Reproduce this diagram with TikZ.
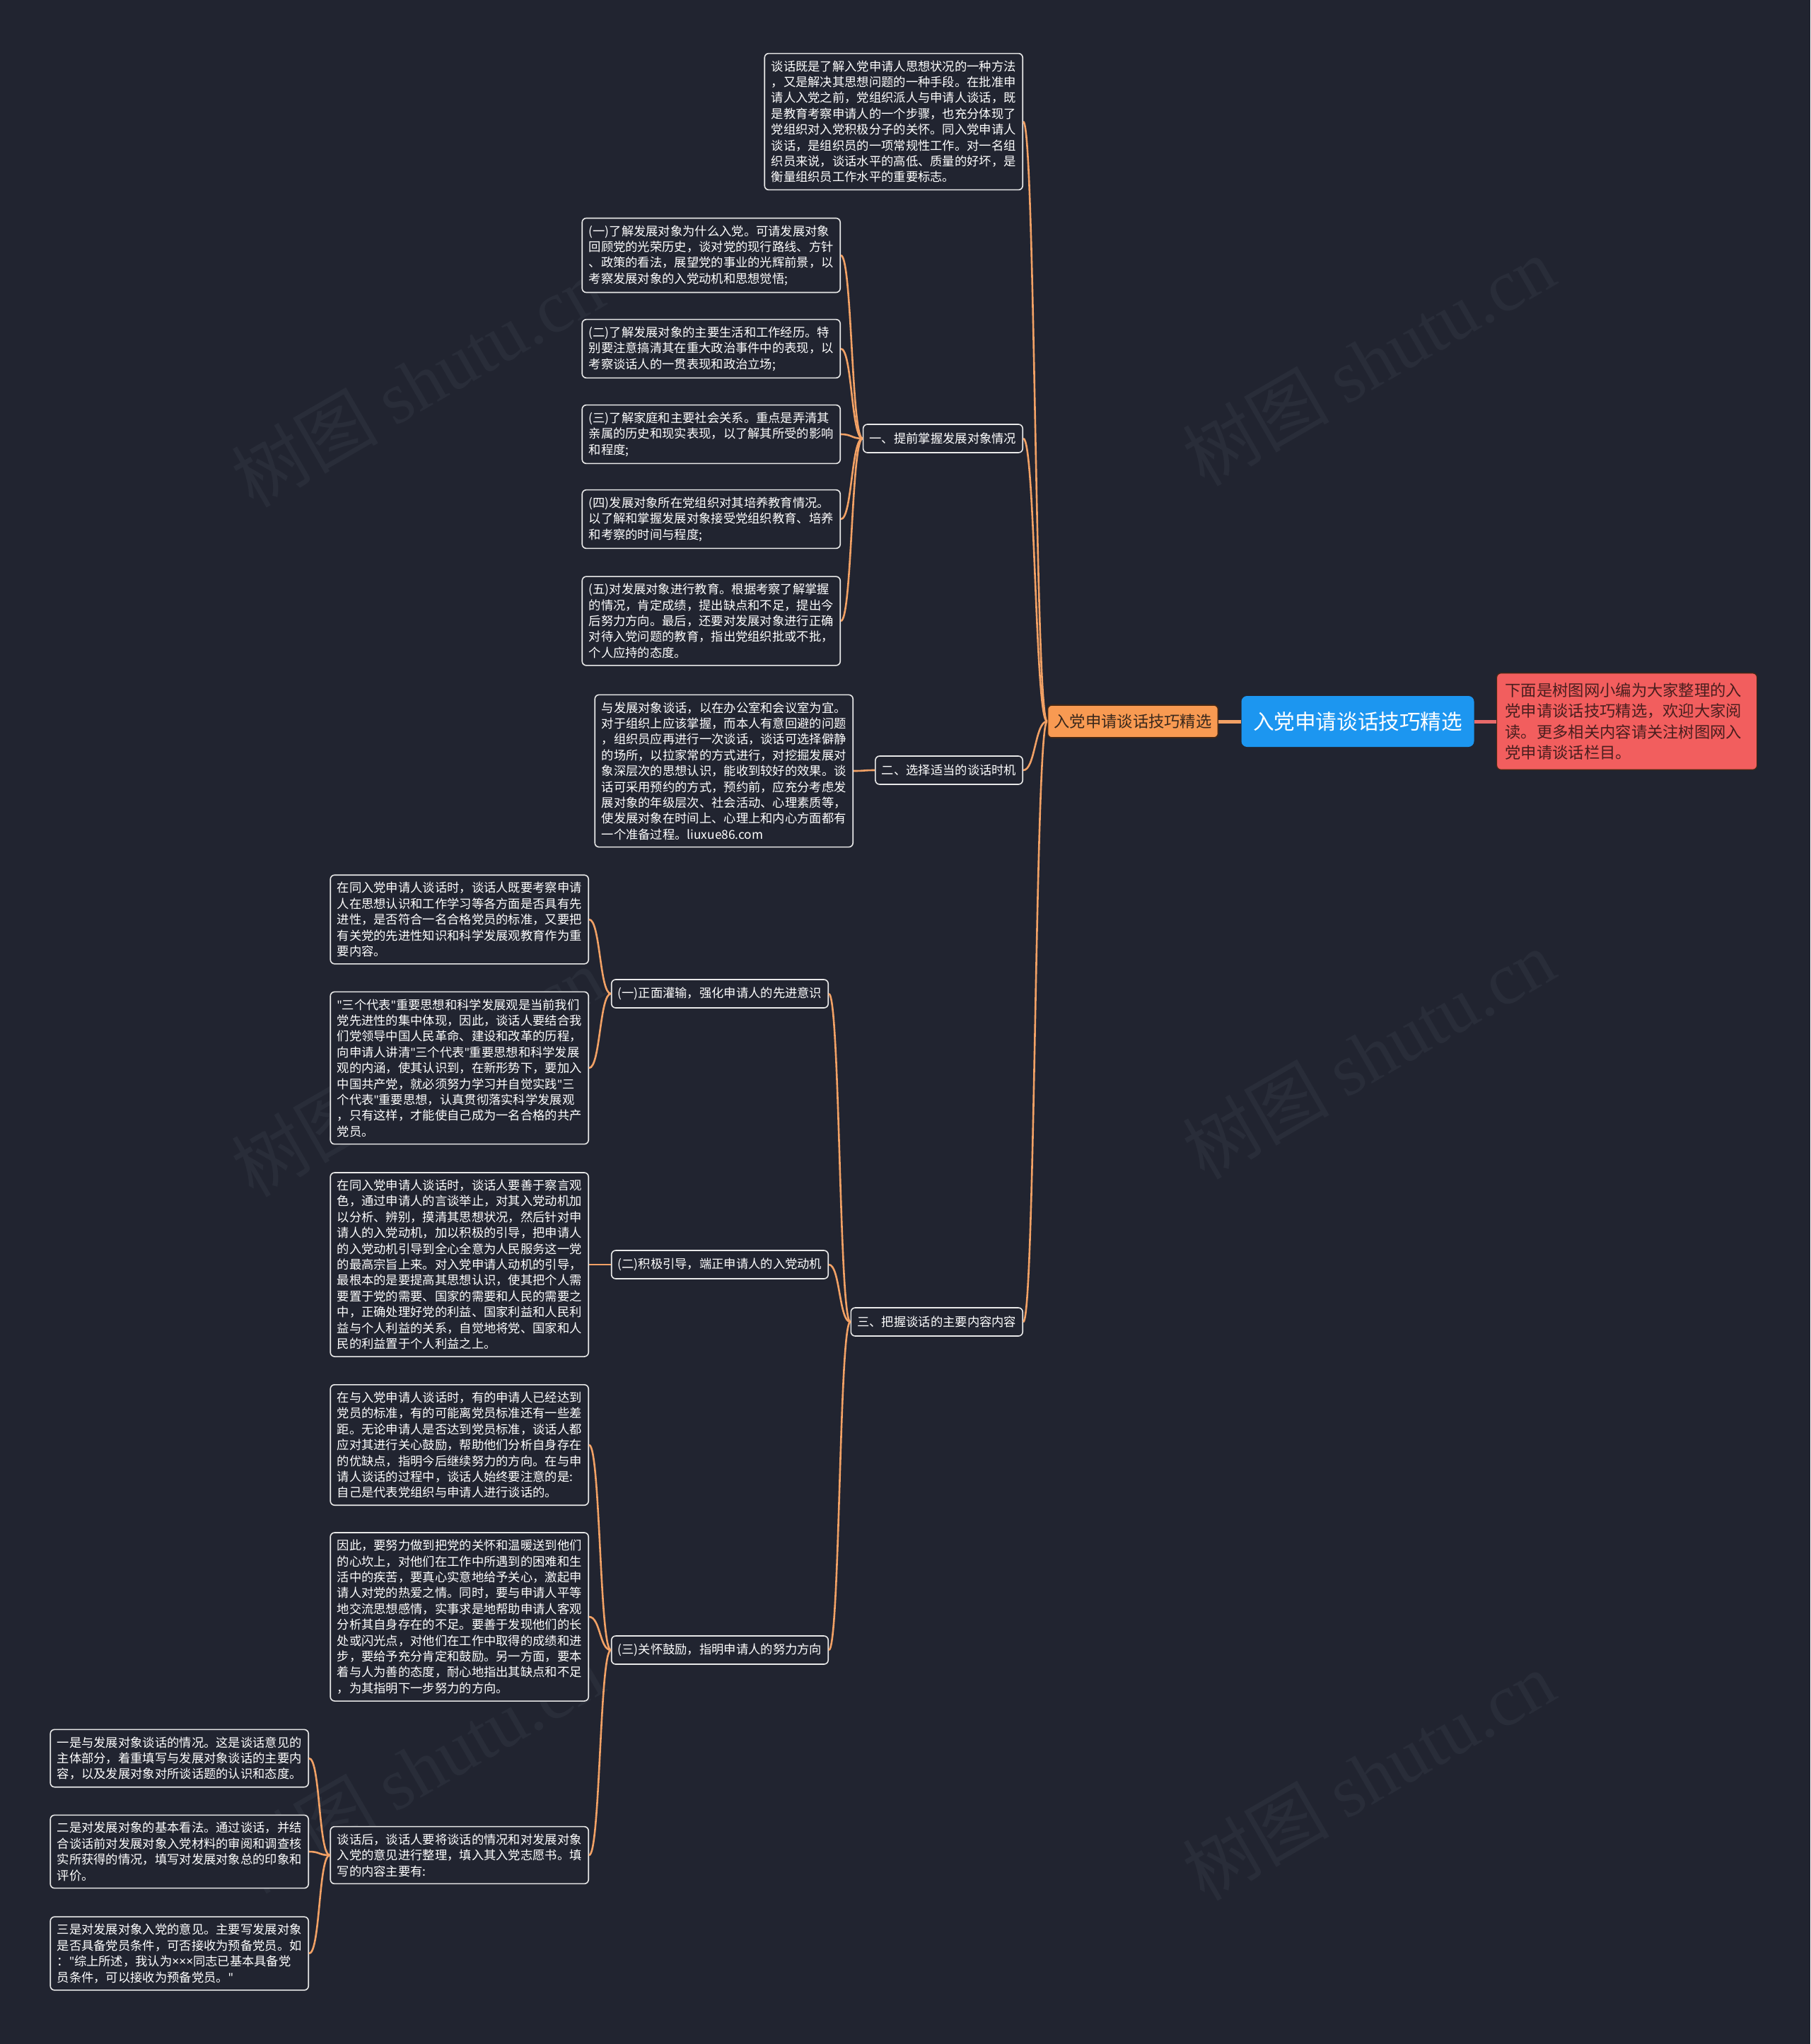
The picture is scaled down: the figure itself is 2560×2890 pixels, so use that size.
\documentclass[tikz,border=0pt]{standalone}
\usepackage{fontspec}
\setmainfont{Noto Sans CJK SC}
\newfontfamily\wmserif{Liberation Serif}
\newfontfamily\latf{Noto Sans}
\newcommand\myq{{\latf"}}
\newcommand\myx{{\latf ×}}
\definecolor{bg}{RGB}{33,36,48}
\definecolor{boxline}{RGB}{232,232,232}
\definecolor{connc}{RGB}{242,161,101}
\definecolor{orfill}{RGB}{248,154,82}
\definecolor{ortext}{RGB}{58,40,28}
\definecolor{orline}{RGB}{70,40,20}
\definecolor{bluefill}{RGB}{28,150,240}
\definecolor{redfill}{RGB}{242,94,94}
\definecolor{redtext}{RGB}{74,30,30}
\definecolor{redline}{RGB}{232,106,106}
\definecolor{wmc}{RGB}{41,45,57}
\tikzset{
  leaf/.style={draw=boxline, line width=0.8pt, fill=bg, rounded corners=3pt, text=white,
    align=left, text width=173pt, inner xsep=4.75pt, inner ysep=5pt,
    font=\fontsize{8.65pt}{11.2pt}\selectfont, anchor=east},
  midbox/.style={draw=boxline, line width=0.8pt, fill=bg, rounded corners=3pt, text=white,
    inner xsep=4.5pt, inner ysep=2pt, minimum height=20pt,
    font=\fontsize{8.65pt}{11.2pt}\selectfont, anchor=east},
  conn/.style={draw=connc, line width=1.3pt},
  wm/.style={text=wmc, font=\fontsize{52pt}{60pt}\selectfont, rotate=30},
}
\begin{document}
\begin{tikzpicture}[x=0.5pt, y=-0.5pt]
\fill[bg] (0,0) rectangle (2560,2890);
\useasboundingbox (0,0) rectangle (2560,2890);

% watermarks
\node[wm] (w1) at (590,540) {树图 {\wmserif shutu.cn}};
\node[wm] (w2) at (1935,510) {树图 {\wmserif shutu.cn}};
\node[wm] (w3) at (590,1515) {树图 {\wmserif shutu.cn}};
\node[wm] (w4) at (1935,1490) {树图 {\wmserif shutu.cn}};
\node[wm] (w5) at (590,2500) {树图 {\wmserif shutu.cn}};
\node[wm] (w6) at (1935,2510) {树图 {\wmserif shutu.cn}};

% central nodes
\node[draw=orline, line width=0.8pt, fill=orfill, text=ortext, rounded corners=3pt,
  inner xsep=4.5pt, minimum height=23pt, font=\fontsize{11.15pt}{13pt}\selectfont] (O) at (1602,1020) {入党申请谈话技巧精选};
\node[fill=bluefill, text=white, rounded corners=4pt, inner xsep=8.25pt, minimum height=36pt,
  font=\fontsize{14.8pt}{17pt}\selectfont] (R) at (1920,1020) {入党申请谈话技巧精选};
\node[draw=orline, line width=0.6pt, fill=redfill, text=redtext, rounded corners=3pt, align=left,
  text width=172pt, inner xsep=6pt, inner ysep=6.9pt, font=\fontsize{11.15pt}{14.7pt}\selectfont,
  anchor=west] (D) at (2116,1020) {下面是树图网小编为大家整理的入\\党申请谈话技巧精选，欢迎大家阅\\读。更多相关内容请关注树图网入\\党申请谈话栏目。};

% top box
\node[leaf] (T0) at (1447,172) {谈话既是了解入党申请人思想状况的一种方法\\，又是解决其思想问题的一种手段。在批准申\\请人入党之前，党组织派人与申请人谈话，既\\是教育考察申请人的一个步骤，也充分体现了\\党组织对入党积极分子的关怀。同入党申请人\\谈话，是组织员的一项常规性工作。对一名组\\织员来说，谈话水平的高低、质量的好坏，是\\衡量组织员工作水平的重要标志。};

% branch 1
\node[midbox] (M1) at (1447,620) {一、提前掌握发展对象情况};
\node[leaf] (L1) at (1189,361) {(一)了解发展对象为什么入党。可请发展对象\\回顾党的光荣历史，谈对党的现行路线、方针\\、政策的看法，展望党的事业的光辉前景，以\\考察发展对象的入党动机和思想觉悟;};
\node[leaf] (L2) at (1189,493) {(二)了解发展对象的主要生活和工作经历。特\\别要注意搞清其在重大政治事件中的表现，以\\考察谈话人的一贯表现和政治立场;};
\node[leaf] (L3) at (1189,614) {(三)了解家庭和主要社会关系。重点是弄清其\\亲属的历史和现实表现，以了解其所受的影响\\和程度;};
\node[leaf] (L4) at (1189,734) {(四)发展对象所在党组织对其培养教育情况。\\以了解和掌握发展对象接受党组织教育、培养\\和考察的时间与程度;};
\node[leaf] (L5) at (1189,878) {(五)对发展对象进行教育。根据考察了解掌握\\的情况，肯定成绩，提出缺点和不足，提出今\\后努力方向。最后，还要对发展对象进行正确\\对待入党问题的教育，指出党组织批或不批，\\个人应持的态度。};

% branch 2
\node[midbox] (M2) at (1447,1089) {二、选择适当的谈话时机};
\node[leaf] (BX) at (1207,1090) {与发展对象谈话，以在办公室和会议室为宜。\\对于组织上应该掌握，而本人有意回避的问题\\，组织员应再进行一次谈话，谈话可选择僻静\\的场所，以拉家常的方式进行，对挖掘发展对\\象深层次的思想认识，能收到较好的效果。谈\\话可采用预约的方式，预约前，应充分考虑发\\展对象的年级层次、社会活动、心理素质等，\\使发展对象在时间上、心理上和内心方面都有\\一个准备过程。liuxue86.com};

% branch 3
\node[midbox] (M3) at (1447,1869) {三、把握谈话的主要内容内容};
\node[midbox] (S1) at (1172,1405) {(一)正面灌输，强化申请人的先进意识};
\node[midbox] (S2) at (1172,1788) {(二)积极引导，端正申请人的入党动机};
\node[midbox] (S3) at (1172,2333) {(三)关怀鼓励，指明申请人的努力方向};

\node[leaf] (A1) at (833,1300) {在同入党申请人谈话时，谈话人既要考察申请\\人在思想认识和工作学习等各方面是否具有先\\进性，是否符合一名合格党员的标准，又要把\\有关党的先进性知识和科学发展观教育作为重\\要内容。};
\node[leaf] (A2) at (833,1510) {\myq 三个代表\myq 重要思想和科学发展观是当前我们\\党先进性的集中体现，因此，谈话人要结合我\\们党领导中国人民革命、建设和改革的历程，\\向申请人讲清\myq 三个代表\myq 重要思想和科学发展\\观的内涵，使其认识到，在新形势下，要加入\\中国共产党，就必须努力学习并自觉实践\myq 三\\个代表\myq 重要思想，认真贯彻落实科学发展观\\，只有这样，才能使自己成为一名合格的共产\\党员。};
\node[leaf] (B1) at (833,1788) {在同入党申请人谈话时，谈话人要善于察言观\\色，通过申请人的言谈举止，对其入党动机加\\以分析、辨别，摸清其思想状况，然后针对申\\请人的入党动机，加以积极的引导，把申请人\\的入党动机引导到全心全意为人民服务这一党\\的最高宗旨上来。对入党申请人动机的引导，\\最根本的是要提高其思想认识，使其把个人需\\要置于党的需要、国家的需要和人民的需要之\\中，正确处理好党的利益、国家利益和人民利\\益与个人利益的关系，自觉地将党、国家和人\\民的利益置于个人利益之上。};
\node[leaf] (C1) at (833,2043) {在与入党申请人谈话时，有的申请人已经达到\\党员的标准，有的可能离党员标准还有一些差\\距。无论申请人是否达到党员标准，谈话人都\\应对其进行关心鼓励，帮助他们分析自身存在\\的优缺点，指明今后继续努力的方向。在与申\\请人谈话的过程中，谈话人始终要注意的是:\\自己是代表党组织与申请人进行谈话的。};
\node[leaf] (C2) at (833,2286) {因此，要努力做到把党的关怀和温暖送到他们\\的心坎上，对他们在工作中所遇到的困难和生\\活中的疾苦，要真心实意地给予关心，激起申\\请人对党的热爱之情。同时，要与申请人平等\\地交流思想感情，实事求是地帮助申请人客观\\分析其自身存在的不足。要善于发现他们的长\\处或闪光点，对他们在工作中取得的成绩和进\\步，要给予充分肯定和鼓励。另一方面，要本\\着与人为善的态度，耐心地指出其缺点和不足\\，为其指明下一步努力的方向。};
\node[leaf] (E0) at (833,2623) {谈话后，谈话人要将谈话的情况和对发展对象\\入党的意见进行整理，填入其入党志愿书。填\\写的内容主要有:};
\node[leaf] (E1) at (437,2486) {一是与发展对象谈话的情况。这是谈话意见的\\主体部分，着重填写与发展对象谈话的主要内\\容，以及发展对象对所谈话题的认识和态度。};
\node[leaf] (E2) at (437,2618) {二是对发展对象的基本看法。通过谈话，并结\\合谈话前对发展对象入党材料的审阅和调查核\\实所获得的情况，填写对发展对象总的印象和\\评价。};
\node[leaf] (E3) at (437,2762) {三是对发展对象入党的意见。主要写发展对象\\是否具备党员条件，可否接收为预备党员。如\\：\myq 综上所述，我认为\myx\myx\myx 同志已基本具备党\\员条件，可以接收为预备党员。\myq};

% thick connectors from root
\draw[draw=connc, line width=2.5pt] (R.west) -- (O.east);
\draw[draw=redline, line width=2.5pt] (R.east) -- (D.west);

% connectors
\foreach \c in {T0,M1,M2,M3}
  \draw[conn] (O.west) .. controls +(-17,0) and +(17,0) .. (\c.east);
\foreach \c in {L1,L2,L3,L4,L5}
  \draw[conn] (M1.west) .. controls +(-16,0) and +(16,0) .. (\c.east);
\draw[conn] (M2.west) .. controls +(-16,0) and +(16,0) .. (BX.east);
\foreach \c in {S1,S2,S3}
  \draw[conn] (M3.west) .. controls +(-16,0) and +(16,0) .. (\c.east);
\foreach \c in {A1,A2}
  \draw[conn] (S1.west) .. controls +(-16,0) and +(16,0) .. (\c.east);
\draw[conn] (S2.west) .. controls +(-16,0) and +(16,0) .. (B1.east);
\foreach \c in {C1,C2,E0}
  \draw[conn] (S3.west) .. controls +(-16,0) and +(16,0) .. (\c.east);
\foreach \c in {E1,E2,E3}
  \draw[conn] (E0.west) .. controls +(-16,0) and +(16,0) .. (\c.east);
\end{tikzpicture}
\end{document}
